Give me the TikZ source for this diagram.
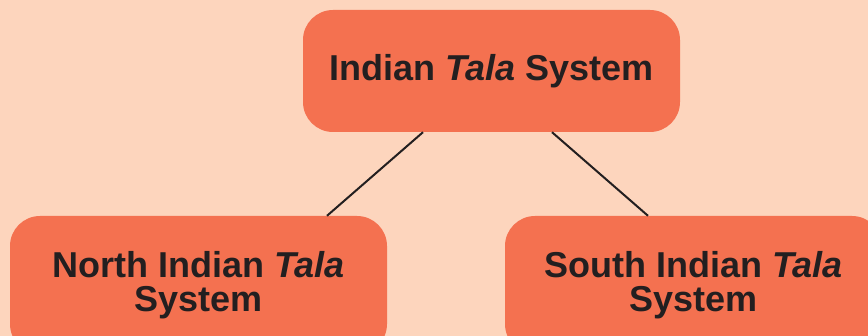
\documentclass[tikz,border=0pt]{standalone}
\usepackage{fontspec}
\setmainfont{Liberation Sans}
\usetikzlibrary{calc}
\definecolor{bgpeach}{HTML}{FDD5BD}
\definecolor{boxorange}{HTML}{F47150}
\definecolor{inkdark}{HTML}{231F20}
\tikzset{
  talabox/.style={fill=boxorange, draw=none, rounded corners=30pt,
    minimum width=377pt, inner sep=0pt, align=center,
    text=inkdark, font=\fontsize{36}{34}\selectfont\bfseries},
  link/.style={draw=inkdark, line width=2pt}
}
\begin{document}
\begin{tikzpicture}[x=1pt,y=-1pt]
\fill[bgpeach] (0,0) rectangle (868,336);
\useasboundingbox (0,0) rectangle (868,336);
\node[talabox, minimum height=122pt] (top) at (491.5,71) {Indian \textit{Tala} System};
\node[talabox, minimum height=138pt] (north) at (198.5,285) {North Indian \textit{Tala}\\System};
\node[talabox, minimum height=138pt] (south) at (693.5,285) {South Indian \textit{Tala}\\System};
\draw[link] ($(top.south)+(-68.5,0)$) -- ($(north.north)+(128.5,0)$);
\draw[link] ($(top.south)+(60.5,0)$) -- ($(south.north)+(-45.5,0)$);
\end{tikzpicture}
\end{document}
